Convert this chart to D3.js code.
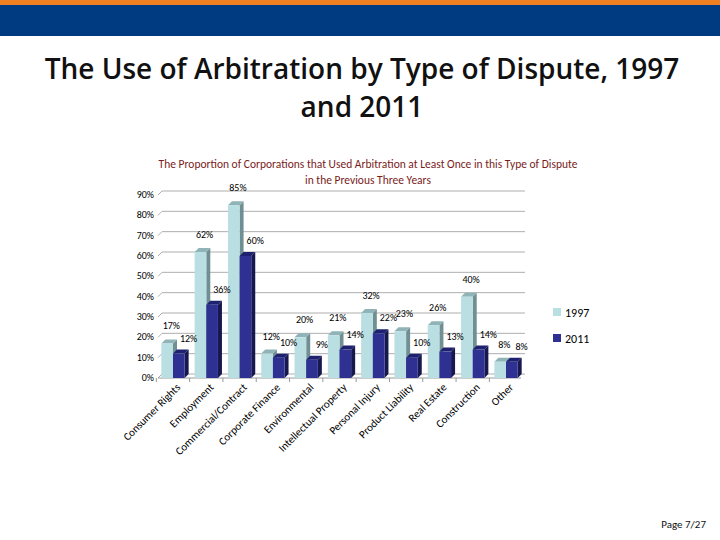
<!DOCTYPE html><html><head><meta charset="utf-8"><script src="https://cdn.jsdelivr.net/npm/d3@7"></script>
<style>body{margin:0;background:#fff}svg{font-family:Calibri,"Liberation Sans Narrow","Open Sans",sans-serif}</style></head><body><svg id="c" width="720" height="540"></svg><script>
const categories=["Consumer Rights","Employment","Commercial/Contract","Corporate Finance","Environmental","Intellectual Property","Personal Injury","Product Liability","Real Estate","Construction","Other"];
const v1997=[17,62,85,12,20,21,32,23,26,40,8];
const v2011=[12,36,60,10,9,14,22,10,13,14,8];
const yTicks=[0,10,20,30,40,50,60,70,80,90];
const series=[{name:"1997",vals:v1997,c:"#b9dfe3",side:"#6f8f92",top:"#8fb3b6"},{name:"2011",vals:v2011,c:"#2e3192",side:"#16184f",top:"#1e2070"}];
const svg=d3.select("#c");
svg.append("rect").attr("x",0).attr("y",0).attr("width",720).attr("height",5).attr("fill","#f07f22");
svg.append("rect").attr("x",0).attr("y",5).attr("width",720).attr("height",31).attr("fill","#003a80");
svg.append("text").attr("x",362).attr("y",79).attr("text-anchor","middle").attr("font-size",28).attr("font-weight",600).attr("font-family","Open Sans").attr("fill","#111").text("The Use of Arbitration by Type of Dispute, 1997");
svg.append("text").attr("x",362).attr("y",117).attr("text-anchor","middle").attr("font-size",28).attr("font-weight",600).attr("font-family","Open Sans").attr("fill","#111").text("and 2011");
svg.append("text").attr("x",368).attr("y",168).attr("text-anchor","middle").attr("font-size",11.5).attr("fill","#7a1c1c").text("The Proportion of  Corporations that Used Arbitration at Least Once in this Type of Dispute");
svg.append("text").attr("x",368).attr("y",184).attr("text-anchor","middle").attr("font-size",11.5).attr("fill","#7a1c1c").text("in the Previous Three Years");
svg.append("text").attr("x",706).attr("y",528).attr("text-anchor","end").attr("font-size",11).attr("fill","#111").text("Page 7/27");
const y=d3.scaleLinear().domain([0,90]).range([378,195]);
const x=d3.scaleBand().domain(categories).range([158,521]).paddingInner(0.3).paddingOuter(0.1);
const x2=d3.scaleBand().domain(["1997","2011"]).range([0,x.bandwidth()]);
const d=4;
const g=svg.append("g");
yTicks.forEach(t=>{g.append("line").attr("x1",158+d).attr("x2",521+d).attr("y1",y(t)-d).attr("y2",y(t)-d).attr("stroke","#999").attr("stroke-width",0.8);
g.append("line").attr("x1",158).attr("x2",158+d).attr("y1",y(t)).attr("y2",y(t)-d).attr("stroke","#999").attr("stroke-width",0.8);
g.append("text").attr("x",154).attr("y",y(t)+3).attr("text-anchor","end").attr("font-size",10).text(t+"%");});
g.append("line").attr("x1",158).attr("x2",521).attr("y1",378).attr("y2",378).attr("stroke","#999");
categories.forEach((c,i)=>{
 g.append("line").attr("x1",x(c)-x.step()*0.15).attr("x2",x(c)-x.step()*0.15).attr("y1",378).attr("y2",382).attr("stroke","#999");
 g.append("text").attr("transform",`translate(${x(c)+x.bandwidth()/2+8},${388}) rotate(-45)`).attr("text-anchor","end").attr("font-size",11).text(c);
 series.forEach(s=>{const bx=x(c)+x2(s.name),w=x2.bandwidth(),v=s.vals[i],by=y(v);
  g.append("path").attr("d",`M${bx+w},${by}L${bx+w+d},${by-d}L${bx+w+d},${378-d}L${bx+w},378Z`).attr("fill",s.side);
  g.append("path").attr("d",`M${bx},${by}L${bx+d},${by-d}L${bx+w+d},${by-d}L${bx+w},${by}Z`).attr("fill",s.top);
  g.append("rect").attr("x",bx).attr("y",by).attr("width",w).attr("height",378-by).attr("fill",s.c);
 });
});
categories.forEach((c,i)=>{
 g.append("text").attr("x",x(c)+2).attr("y",y(v1997[i])-14).attr("font-size",10).attr("text-anchor","middle").attr("dx",8).text(v1997[i]+"%");
 g.append("text").attr("x",x(c)+x.bandwidth()+6).attr("y",y(v2011[i])-12).attr("font-size",10).attr("text-anchor","middle").attr("dx",-2).text(v2011[i]+"%");
});
const lg=svg.append("g");
series.forEach((s,i)=>{lg.append("rect").attr("x",553).attr("y",308+i*26).attr("width",8).attr("height",8).attr("fill",s.c);
lg.append("text").attr("x",565).attr("y",317+i*26).attr("font-size",12).text(s.name);});
</script></body></html>
